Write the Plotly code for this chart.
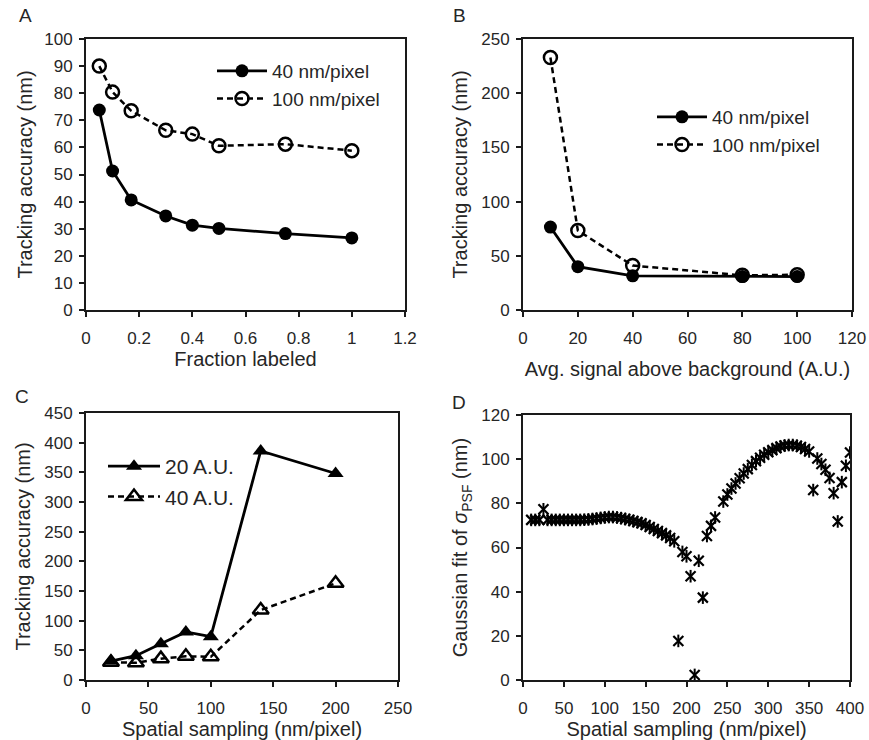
import plotly.graph_objects as go

# ---------------- data ----------------
# Panel A
a_x = [0.05, 0.1, 0.17, 0.3, 0.4, 0.5, 0.75, 1.0]
a_40 = [73.8, 51.3, 40.6, 34.7, 31.3, 30.1, 28.2, 26.6]
a_100 = [90.0, 80.4, 73.5, 66.3, 64.9, 60.6, 61.2, 58.8]
# Panel B
b_x = [10, 20, 40, 80, 100]
b_40 = [76.5, 40.0, 31.5, 30.8, 30.8]
b_100 = [233.0, 73.3, 41.0, 32.0, 32.5]
# Panel C
c_x = [20, 40, 60, 80, 100, 140, 200]
c_20 = [32, 41, 61, 81, 73, 386, 348]
c_40 = [30, 29, 36, 40, 39, 118, 163]
# Panel D
d_x = [10, 15, 20, 25, 30, 35, 40, 45, 50, 55, 60, 65, 70, 75, 80, 85, 90, 95,
       100, 105, 110, 115, 120, 125, 130, 135, 140, 145, 150, 155, 160, 165,
       170, 175, 180, 185, 190, 195, 200, 205, 210, 215, 220, 225, 230, 235,
       245, 250, 255, 260, 265, 270, 275, 280, 285, 290, 295, 300, 305, 310,
       315, 320, 325, 330, 335, 340, 345, 350, 355, 360, 365, 370, 375, 380,
       385, 390, 395, 400]
d_y = [72.5, 72.5, 72.5, 77.3, 72.5, 72.5, 72.5, 72.5, 72.5, 72.5, 72.5, 72.5,
       72.5, 72.6, 72.7, 72.9, 73.1, 73.4, 73.6, 73.8, 73.8, 73.6, 73.3, 72.9,
       72.5, 72.0, 71.5, 71.0, 70.2, 69.3, 68.4, 67.5, 66.5, 65.5, 64.3, 62.8,
       17.7, 58.0, 56.0, 47.0, 2.3, 54.0, 37.3, 65.2, 69.8, 73.6,
       80.8, 84.0, 86.7, 89.0, 91.4, 93.5, 95.5, 97.4, 99.1, 100.6, 102.0,
       103.1, 104.1, 105.0, 105.7, 106.2, 106.4, 106.4, 106.1, 105.5, 104.6,
       103.5, 86.0, 100.3, 97.8, 95.2, 91.5, 84.6, 71.8, 89.6, 97.0, 103.0]

FONT = "Liberation Sans, Arial, sans-serif"
TXT = "#262626"
LINE = "#1a1a1a"
DASH = "6px,4px"

fig = go.Figure()

# A
fig.add_trace(go.Scatter(x=a_x, y=a_40, name="40 nm/pixel", mode="lines+markers",
                         line=dict(color="black", width=2.8),
                         marker=dict(symbol="circle", size=13, color="black"),
                         xaxis="x", yaxis="y", legend="legend"))
fig.add_trace(go.Scatter(x=a_x, y=a_100, name="100 nm/pixel", mode="lines+markers",
                         line=dict(color="black", width=2.5, dash=DASH),
                         marker=dict(symbol="circle-open", size=13, color="black",
                                     line=dict(width=2.5)),
                         xaxis="x", yaxis="y", legend="legend"))
# B
fig.add_trace(go.Scatter(x=b_x, y=b_40, name="40 nm/pixel", mode="lines+markers",
                         line=dict(color="black", width=2.8),
                         marker=dict(symbol="circle", size=13, color="black"),
                         xaxis="x2", yaxis="y2", legend="legend2"))
fig.add_trace(go.Scatter(x=b_x, y=b_100, name="100 nm/pixel", mode="lines+markers",
                         line=dict(color="black", width=2.5, dash=DASH),
                         marker=dict(symbol="circle-open", size=13, color="black",
                                     line=dict(width=2.5)),
                         xaxis="x2", yaxis="y2", legend="legend2"))
# C
fig.add_trace(go.Scatter(x=c_x, y=c_20, name="20 A.U.", mode="lines+markers",
                         line=dict(color="black", width=2.8),
                         marker=dict(symbol="triangle-up", size=14, color="black"),
                         xaxis="x3", yaxis="y3", legend="legend3"))
fig.add_trace(go.Scatter(x=c_x, y=c_40, name="40 A.U.", mode="lines+markers",
                         line=dict(color="black", width=2.5, dash=DASH),
                         marker=dict(symbol="triangle-up-open", size=14, color="black",
                                     line=dict(width=2.5)),
                         xaxis="x3", yaxis="y3", legend="legend3"))
# D (star marker: x + vertical bar)
fig.add_trace(go.Scatter(x=d_x, y=d_y, mode="markers", showlegend=False,
                         marker=dict(symbol="x-thin-open", size=10, color="black",
                                     line=dict(width=2.2, color="black")),
                         xaxis="x4", yaxis="y4"))
fig.add_trace(go.Scatter(x=d_x, y=d_y, mode="markers", showlegend=False,
                         marker=dict(symbol="line-ns-open", size=9, color="black",
                                     line=dict(width=2, color="black")),
                         xaxis="x4", yaxis="y4"))


def ax(domain, rng, dtick, title, anchor, standoff, tfs=20, tls=4):
    return dict(domain=domain, range=rng, dtick=dtick, anchor=anchor,
                showline=True, mirror=True, linecolor=LINE, linewidth=1.8,
                ticks="outside", ticklen=5, tickwidth=1.8, tickcolor=LINE,
                showgrid=False, zeroline=False, automargin=False,
                ticklabelstandoff=tls,
                tickfont=dict(family=FONT, size=17, color=TXT),
                title=dict(text=title, standoff=standoff,
                           font=dict(family=FONT, size=tfs, color=TXT)))


W, H = 869, 740
def dx(a, b):
    return [a / W, b / W]
def dy(top, bot):
    return [1 - bot / H, 1 - top / H]

fig.update_layout(
    width=W, height=H, margin=dict(l=0, r=0, t=0, b=0),
    paper_bgcolor="white", plot_bgcolor="white",
    font=dict(family=FONT, color=TXT),
    xaxis=ax(dx(86, 405), [0, 1.2], 0.2, "Fraction labeled", "y", 4, tls=7),
    yaxis=ax(dy(39, 310), [0, 100], 10, "Tracking accuracy (nm)", "x", 6, tls=3),
    xaxis2=ax(dx(523, 852), [0, 120], 20, "Avg. signal above background (A.U.)", "y2", 15, tls=7),
    yaxis2=ax(dy(39, 310), [0, 250], 50, "Tracking accuracy (nm)", "x2", 8, tls=3),
    xaxis3=ax(dx(86, 398), [0, 250], 50, "Spatial sampling (nm/pixel)", "y3", 6, tls=7),
    yaxis3=ax(dy(413, 680), [0, 450], 50, "Tracking accuracy (nm)", "x3", 8, tls=3),
    xaxis4=ax(dx(523, 850), [0, 400], 50, "Spatial sampling (nm/pixel)", "y4", 6, tls=7),
    yaxis4=ax(dy(415, 680), [0, 120], 20, "Gaussian fit of <i>σ</i><sub>PSF</sub> (nm)", "x4", 8, tls=3),
    legend=dict(x=212 / W, y=1 - 52 / H, xanchor="left", yanchor="top",
                bgcolor="rgba(0,0,0,0)", itemwidth=50,
                font=dict(family=FONT, size=19, color=TXT), tracegroupgap=0),
    legend2=dict(x=652 / W, y=1 - 98 / H, xanchor="left", yanchor="top",
                 bgcolor="rgba(0,0,0,0)", itemwidth=50,
                 font=dict(family=FONT, size=19, color=TXT)),
    legend3=dict(x=103 / W, y=1 - 446 / H, xanchor="left", yanchor="top",
                 bgcolor="rgba(0,0,0,0)", itemwidth=52,
                 font=dict(family=FONT, size=21, color=TXT)),
    showlegend=True,
)

for lab, x, y in [("A", 25, 15), ("B", 459, 15), ("C", 22, 396), ("D", 459, 402)]:
    fig.add_annotation(text=lab, x=x / W, y=1 - y / H, xref="paper", yref="paper",
                       showarrow=False, xanchor="center", yanchor="middle",
                       font=dict(family=FONT, size=19, color=TXT))

fig.write_html("out.html")
